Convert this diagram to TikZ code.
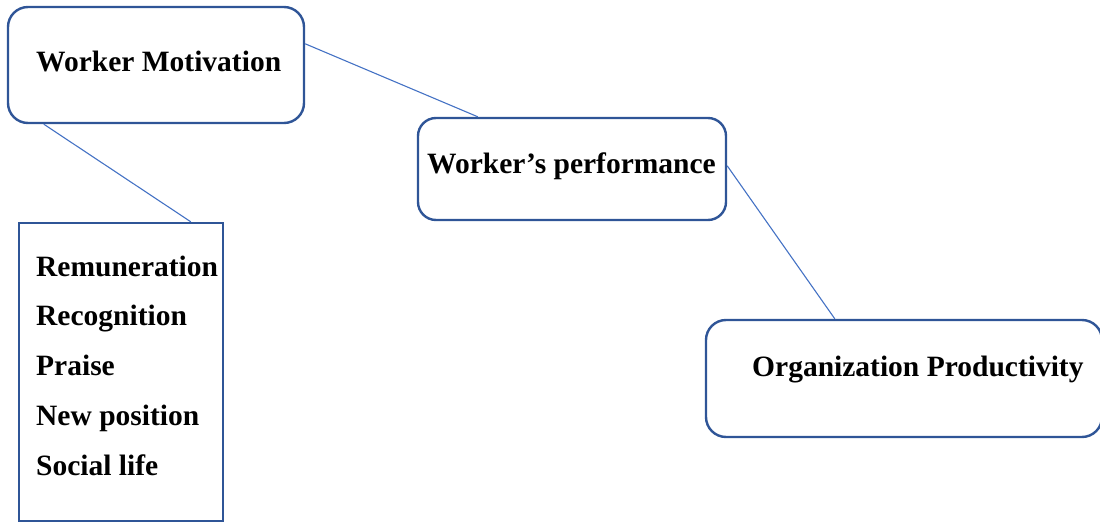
\documentclass[tikz,border=0pt]{standalone}
\usepackage{fontspec}
\setmainfont{Liberation Serif}
\usetikzlibrary{calc}
\definecolor{boxblue}{HTML}{2F5597}
\definecolor{lineblue}{HTML}{4472C4}
\begin{document}
\begin{tikzpicture}[x=1pt,y=-1pt,
  box/.style={draw=boxblue, line width=2.4pt, rounded corners=20pt, inner sep=0pt},
  listbox/.style={draw=boxblue, line width=2.4pt, inner sep=0pt},
  conn/.style={draw=lineblue, line width=1.1pt},
  lbl/.style={anchor=base west, inner sep=0pt, font=\bfseries\fontsize{29.5}{35}\selectfont}]
\useasboundingbox (0,0) rectangle (1100,524);
% boxes
\node[box, minimum width=296pt, minimum height=116pt] (wm) at (156,65) {};
\node[box, rounded corners=18pt, minimum width=308pt, minimum height=102pt] (wp) at (572,169) {};
\node[box, minimum width=396pt, minimum height=117pt] (op) at (904,378.5) {};
\node[listbox, minimum width=204pt, minimum height=298pt] (lb) at (121,372) {};
% texts
\node[lbl] (twm) at (36,72) {Worker Motivation};
\node[lbl] (twp) at (427,173) {Worker’s performance};
\node[lbl] (top) at (752,376.5) {Organization Productivity};
\node[lbl] (l1) at (36,276) {Remuneration};
\node[lbl] (l2) at (36,325.5) {Recognition};
\node[lbl] (l3) at (36,375.5) {Praise};
\node[lbl] (l4) at (36,425.5) {New position};
\node[lbl] (l5) at (36,475) {Social life};
% connectors
\draw[conn] ($(wm.north east)+(0,38)$) -- ($(wp.north west)+(61,0)$);
\draw[conn] ($(wm.south west)+(37,0)$) -- ($(lb.north west)+(173,0)$);
\draw[conn] ($(wp.north east)+(0,49)$) -- ($(op.north west)+(130,0)$);
\end{tikzpicture}
\end{document}
